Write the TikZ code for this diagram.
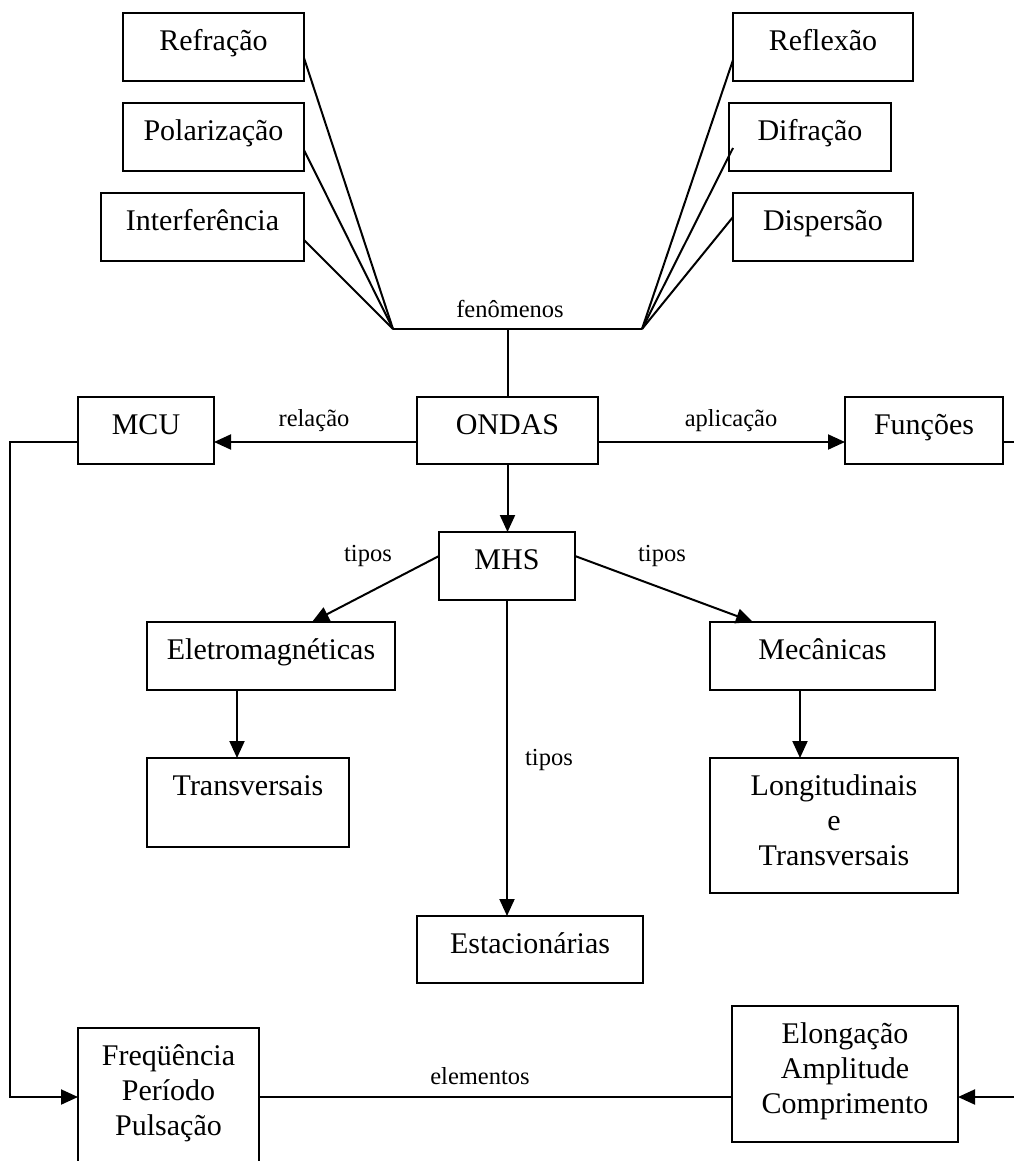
\documentclass[tikz,border=0pt]{standalone}
\usepackage{fontspec}
\setmainfont{Liberation Serif}
\usetikzlibrary{arrows.meta,calc}
% text of a box: fixed width and height, lines set from the top
\newcommand\boxtext[3]{\parbox[c][#2pt][t]{#1pt}{\centering\fontsize{30}{35}\selectfont\rule{0pt}{37.5pt}#3}}
\begin{document}
\begin{tikzpicture}[x=1pt,y=-1pt,
  box/.style={draw, line width=2.1pt, inner sep=0pt, outer sep=0pt, anchor=north west},
  link/.style={line width=2pt},
  arr/.style={link, -{Triangle[length=17pt,width=15pt]}},
  lab/.style={font=\fontsize{24.5}{28}\selectfont, inner sep=0pt}]
\fill[white] (0,0) rectangle (1013,1161);
\useasboundingbox (0,0) rectangle (1013,1161);

% phenomena
\node[box] (refr) at (123,13)  {\boxtext{181}{68}{Refração}};
\node[box] (pola) at (123,103) {\boxtext{181}{68}{Polarização}};
\node[box] (inte) at (101,193) {\boxtext{203}{68}{Interferência}};
\node[box] (refl) at (733,13)  {\boxtext{180}{68}{Reflexão}};
\node[box] (difr) at (729,103) {\boxtext{162}{68}{Difração}};
\node[box] (disp) at (733,193) {\boxtext{180}{68}{Dispersão}};

% central row
\node[box] (mcu)   at (78,397)  {\boxtext{136}{67}{MCU}};
\node[box] (ondas) at (417,397) {\boxtext{181}{67}{ONDAS}};
\node[box] (func)  at (845,397) {\boxtext{158}{67}{Funções}};

% types
\node[box] (mhs)  at (439,532) {\boxtext{136}{68}{MHS}};
\node[box] (elet) at (147,622) {\boxtext{248}{68}{Eletromagnéticas}};
\node[box] (mec)  at (710,622) {\boxtext{225}{68}{Mecânicas}};
\node[box] (tran) at (147,758) {\boxtext{202}{89}{Transversais}};
\node[box] (long) at (710,758) {\boxtext{248}{135}{Longitudinais\\e\\Transversais}};
\node[box] (esta) at (417,916) {\boxtext{226}{67}{Estacionárias}};

% elements
\node[box] (freq) at (78,1028)  {\boxtext{181}{160}{Freqüência\\Período\\Pulsação}};
\node[box] (elon) at (732,1006) {\boxtext{226}{136}{Elongação\\Amplitude\\Comprimento}};

% fan of phenomena
\coordinate (jl) at (393,329);
\coordinate (jr) at (642,329);
\draw[link] ($(refr.north east)+(0,45)$) -- (jl);
\draw[link] ($(pola.north east)+(0,47)$) -- (jl);
\draw[link] ($(inte.north east)+(0,47)$) -- (jl);
\draw[link] ($(refl.north west)+(0,47)$) -- (jr);
\draw[link] ($(difr.north west)+(4,45)$) -- (jr);
\draw[link] ($(disp.north west)+(0,24)$) -- (jr);
\draw[link] (jl) -- (jr);
\draw[link] (ondas.north) -- (ondas.north |- jl);
\node[lab] (lfen) at (510,309) {fenômenos};

% central row connectors
\draw[arr] ($(ondas.north west)+(0,45)$) -- ($(mcu.north east)+(0,45)$);
\draw[arr] ($(ondas.north east)+(0,45)$) -- ($(func.north west)+(0,45)$);
\node[lab] (lrel) at (314,421) {relação};
\node[lab] (lapl) at (731,421) {aplicação};
\coordinate (redge) at (1020,442);
\draw[link] ($(func.north east)+(0,45)$) -- (redge);

% types connectors
\draw[arr] (ondas.south) -- (ondas.south |- mhs.north);
\draw[arr] ($(mhs.north west)+(0,24)$) -- ($(elet.north west)+(165,0)$);
\draw[arr] ($(mhs.north east)+(0,24)$) -- ($(mec.north west)+(43,0)$);
\draw[arr] ($(elet.south west)+(90,0)$) -- ($(tran.north west)+(90,0)$);
\draw[arr] ($(mec.south west)+(90,0)$) -- ($(long.north west)+(90,0)$);
\draw[arr] (mhs.south) -- (mhs.south |- esta.north);
\node[lab] (lt1) at (368,556) {tipos};
\node[lab] (lt2) at (662,556) {tipos};
\node[lab] (lt3) at (549,760) {tipos};

% elements connectors
\coordinate (lbend) at (10,442);
\coordinate (lfoot) at (10,1097);
\draw[arr] ($(mcu.north west)+(0,45)$) -- (lbend) -- (lfoot) -- ($(freq.north west)+(0,69)$);
\draw[link] ($(freq.north east)+(0,69)$) -- ($(elon.north west)+(0,91)$);
\node[lab] (lele) at (480,1076) {elementos};
\coordinate (rin) at (1020,1097);
\draw[arr] (rin) -- ($(elon.north east)+(0,91)$);
\end{tikzpicture}
\end{document}
